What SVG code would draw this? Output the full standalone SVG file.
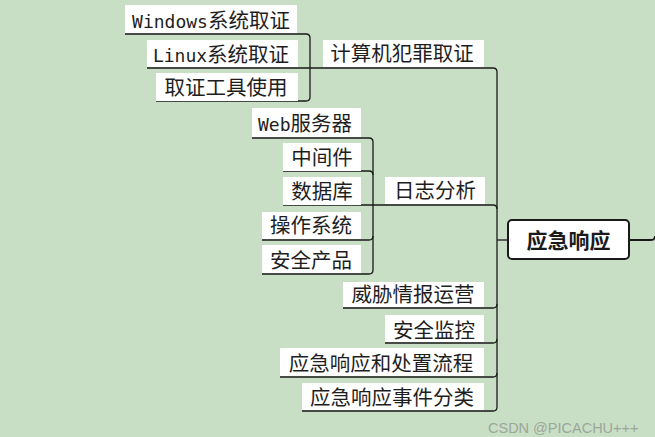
<svg xmlns="http://www.w3.org/2000/svg" width="655" height="437" viewBox="0 0 655 437">
<style>
.bg{fill:#c8dfc5}
.box{fill:#ffffff}
.t{font-family:"Noto Sans CJK SC","Noto Sans",sans-serif;font-size:20.5px;fill:#1e1e1e;text-anchor:middle}
.m{font-family:"DejaVu Sans Mono","Liberation Mono",monospace;font-size:18px}
.ln{fill:none;stroke:#1a1a1a;stroke-width:1.3}
.root{fill:#ffffff;stroke:#1a1a1a;stroke-width:2}
.rt{font-family:"Noto Sans CJK SC","Noto Sans",sans-serif;font-size:21px;font-weight:bold;fill:#1a1a1a;text-anchor:middle}
.wm{font-family:"Liberation Sans",Arial,sans-serif;font-size:14.5px;fill:#9da69b}
</style>
<rect class="bg" x="0" y="0" width="655" height="437"/>

<g id="connectors">
  <path class="ln" d="M125,34 H306 Q310,34 310,38"/>
  <path class="ln" d="M156,101 H306 Q310,101 310,97"/>
  <path class="ln" d="M310,38 V97"/>
  <path class="ln" d="M147,68 H493 Q497,68 497,72"/>
  <path class="ln" d="M497,72 V407"/>
  <path class="ln" d="M252,138 H369 Q373,138 373,142"/>
  <path class="ln" d="M283,171 H369 Q373,171 373,175"/>
  <path class="ln" d="M262,240 H369 Q373,240 373,236"/>
  <path class="ln" d="M262,274 H369 Q373,274 373,270"/>
  <path class="ln" d="M373,142 V270"/>
  <path class="ln" d="M283,205 H493 Q497,205 497,209"/>
  <path class="ln" d="M343,308 H493 Q497,308 497,304"/>
  <path class="ln" d="M385,343 H493 Q497,343 497,339"/>
  <path class="ln" d="M280,377 H493 Q497,377 497,373"/>
  <path class="ln" d="M302,411 H493 Q497,411 497,407"/>
  <path class="ln" d="M497,240 H508"/>
  <path class="ln" d="M629,240 H651 Q655,240 655,236" style="stroke-width:1.8"/>
</g>

<g id="root">
  <rect class="root" x="508" y="220" width="121" height="39" rx="4"/>
  <text class="rt" x="568.5" y="247.5">应急响应</text>
</g>

<g id="n-jisuanji">
  <rect class="box" x="323" y="40" width="161" height="27"/>
  <text class="t" x="402" y="60.5">计算机犯罪取证</text>
</g>
<g id="n-windows">
  <rect class="box" x="125" y="5" width="172" height="28"/>
  <text class="t" x="211" y="27.5"><tspan class="m">Windows</tspan>系统取证</text>
</g>
<g id="n-linux">
  <rect class="box" x="147" y="40" width="151" height="27"/>
  <text class="t" x="221" y="61.5"><tspan class="m">Linux</tspan>系统取证</text>
</g>
<g id="n-tools">
  <rect class="box" x="156" y="73" width="142" height="28"/>
  <text class="t" x="226" y="95">取证工具使用</text>
</g>

<g id="n-rizhi">
  <rect class="box" x="385" y="177" width="100" height="27"/>
  <text class="t" x="435" y="198">日志分析</text>
</g>
<g id="n-web">
  <rect class="box" x="252" y="108" width="109" height="29"/>
  <text class="t" x="305" y="130.5"><tspan class="m">Web</tspan>服务器</text>
</g>
<g id="n-zhongjian">
  <rect class="box" x="283" y="143" width="78" height="28"/>
  <text class="t" x="322" y="165">中间件</text>
</g>
<g id="n-shuju">
  <rect class="box" x="283" y="177" width="78" height="28"/>
  <text class="t" x="322" y="198.5">数据库</text>
</g>
<g id="n-caozuo">
  <rect class="box" x="262" y="212" width="99" height="27"/>
  <text class="t" x="311" y="232.5">操作系统</text>
</g>
<g id="n-anquan">
  <rect class="box" x="262" y="245" width="99" height="28"/>
  <text class="t" x="311" y="267.5">安全产品</text>
</g>

<g id="n-weixie">
  <rect class="box" x="343" y="282" width="141" height="25"/>
  <text class="t" x="413" y="301.5">威胁情报运营</text>
</g>
<g id="n-jiankong">
  <rect class="box" x="385" y="315" width="99" height="27"/>
  <text class="t" x="434" y="337.5">安全监控</text>
</g>
<g id="n-liucheng">
  <rect class="box" x="280" y="348" width="204" height="28"/>
  <text class="t" x="381" y="370.5">应急响应和处置流程</text>
</g>
<g id="n-fenlei">
  <rect class="box" x="302" y="383" width="182" height="27"/>
  <text class="t" x="392" y="404.5">应急响应事件分类</text>
</g>

<text class="wm" x="488" y="433">CSDN @PICACHU+++</text>
</svg>
